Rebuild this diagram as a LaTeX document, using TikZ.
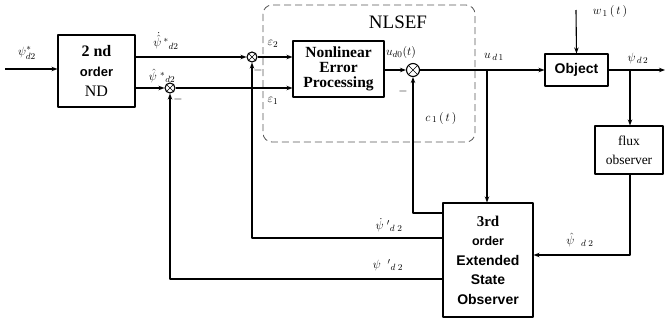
\documentclass[tikz,border=0pt]{standalone}
\usepackage{amsmath,amssymb}
\usepackage{fontspec}
\setmainfont{Liberation Serif}
\setsansfont{Liberation Sans}
\usetikzlibrary{arrows.meta,calc}

\begin{document}
\begin{tikzpicture}[x=1pt,y=-1pt,>={Stealth[length=6pt,width=4.5pt]},line join=round,
  blk/.style={draw,line width=1.1pt,align=center,inner sep=1pt},
  sumc/.style={circle,draw,line width=1.1pt,inner sep=0pt,minimum size=#1,
    path picture={\draw[line width=0.5pt]
      (path picture bounding box.north west)--(path picture bounding box.south east)
      (path picture bounding box.north east)--(path picture bounding box.south west);}},
  sig/.style={line width=1.1pt},
  lbl/.style={inner sep=0pt,font=\fontsize{13}{13}\selectfont}]
  \useasboundingbox (0,0) rectangle (665,324);
  \draw[gray!70!black,line width=0.8pt,dash pattern=on 7pt off 4pt,rounded corners=9pt]
    (263,5) rectangle (475,142);
  \node[blk,minimum width=77pt,minimum height=72pt,font=\bfseries\fontsize{16}{20}\selectfont] (nd) at (96.5,71)
    {2 nd\\ {\sffamily\fontsize{13}{20}\selectfont order}\\ {\mdseries ND}};
  \node[sumc=10pt] (s2) at (252,57) {};
  \node[sumc=10pt] (s1) at (170,88) {};
  \node[blk,minimum width=91pt,minimum height=56pt,font=\bfseries\fontsize{15.5}{15}\selectfont] (nep) at (338.5,69)
    {Nonlinear\\ Error\\ Processing};
  \node[sumc=13pt] (s3) at (413,70) {};
  \node[blk,minimum width=63pt,minimum height=32pt,font=\sffamily\bfseries\fontsize{14}{14}\selectfont] (obj) at (576.5,70) {Object};
  \node[blk,minimum width=68pt,minimum height=48pt,font=\fontsize{13.5}{19}\selectfont] (flux) at (629,150)
    {flux\\ observer};
  \node[blk,minimum width=90pt,minimum height=114pt,font=\sffamily\bfseries\fontsize{14}{19.5}\selectfont] (eso) at (488,260)
    {{\rmfamily\fontsize{15}{19.5}\selectfont 3rd}\\ {\fontsize{12.5}{19.5}\selectfont order}\\ Extended\\ State\\ Observer};
  \coordinate (in) at (5,69);
  \coordinate (w) at (576,10);
  \coordinate (out) at (665,70);
  \coordinate (br1) at (487,70);
  \coordinate (br2) at (630,70);
  \coordinate (fx) at (630,255);
  \coordinate (o1) at (443,213);
  \coordinate (o2) at (443,238);
  \coordinate (o3) at (443,279);
  \draw[sig,->] (in) -- (in -| nd.west);
  \draw[sig,->] (nd.east |- s2) -- (s2.west);
  \draw[sig,->] (nd.east |- s1) -- (s1.west);
  \draw[sig,->] (s2.east) -- (s2 -| nep.west);
  \draw[sig,->] (s1.east) -- (s1 -| nep.west);
  \draw[sig,->] (nep.east |- s3) -- (s3.west);
  \draw[sig,->] (s3.east) -- (obj.west);
  \draw[sig,->] (w) -- (obj.north);
  \draw[sig,->] (obj.east) -- (out);
  \draw[sig,->] (br1) -- (br1 |- eso.north);
  \draw[sig,->] (br2) -- (br2 |- flux.north);
  \draw[sig,->] (br2 |- flux.south) -- (fx) -- (fx -| eso.east);
  \draw[sig,->] (o1) -| (s3.south);
  \draw[sig,->] (o2) -| (s2.south);
  \draw[sig,->] (o3) -| (s1.south);
  \node[lbl] (l1) at (27,53) {$\psi^{*}_{d2}$};
  \node[lbl] (l2) at (166,41) {$\dot{\hat{\psi}}\,{}^{*}{}_{d2}$};
  \node[lbl] (l3) at (162,76) {$\hat{\psi}\;{}^{*}{}_{d2}$};
  \node[lbl] (l4) at (273,44) {$\varepsilon_2$};
  \node[lbl] (l5) at (273,101) {$\varepsilon_1$};
  \node[lbl,font=\fontsize{19}{20}\selectfont] (l6) at (398,22) {NLSEF};
  \node[lbl] (l7) at (401,52) {$u_{d0}(t)$};
  \node[lbl] (l8) at (441,118) {$c_{\,1}\,(\,t\,)$};
  \node[lbl] (l9) at (494,57) {$u_{\,d\,1}$};
  \node[lbl] (l10) at (610,12) {$w_{\,1}\,(\,t\,)$};
  \node[lbl] (l11) at (638,58) {$\psi_{\,d\,2}$};
  \node[lbl] (l12) at (389,225) {$\dot{\psi}\;'{}_{d\;2}$};
  \node[lbl] (l13) at (388,265) {$\psi\;\;'{}_{d\;2}$};
  \node[lbl] (l14) at (580,240) {$\hat{\psi}\;\;{}_{d\;2}$};
  \node[lbl] (m1) at (258,71) {$-$};
  \node[lbl] (m2) at (178,99) {$-$};
  \node[lbl] (m3) at (403,91) {$-$};
\end{tikzpicture}
\end{document}
